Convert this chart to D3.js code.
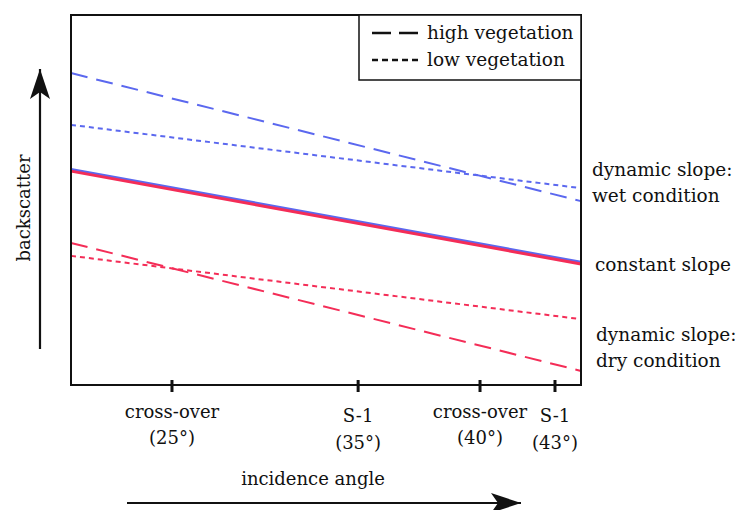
<!DOCTYPE html>
<html>
<head>
<meta charset="utf-8">
<script src="https://cdn.jsdelivr.net/npm/d3@7"></script>
<style>
  body { margin: 0; background: #fff; }
</style>
</head>
<body>
<svg id="chart" width="739" height="510"></svg>
<script>
// schematic incidence angle (deg) at the plot edges and the marked ticks
var angleRange = [20, 44];
var tickAngles = [25, 35, 40, 43];
var tickTop = ['cross-over', 'S-1', 'cross-over', 'S-1'];
var tickBottom = ['(25°)', '(35°)', '(40°)', '(43°)'];

// backscatter (arbitrary units, 0-100) at left / right edge
var seriesNames = ['wet high', 'wet low', 'const wet', 'const dry', 'dry high', 'dry low'];
var seriesStart = [84.3, 70.3, 58.1, 57.8, 38.4, 34.9];
var seriesEnd   = [49.7, 53.2, 33.0, 32.7, 3.8, 17.8];
var seriesKind  = ['dash', 'dot', 'solid', 'solid', 'dash', 'dot'];
var seriesCond  = ['wet', 'wet', 'wet', 'dry', 'dry', 'dry'];

var legendNames = ['high vegetation', 'low vegetation'];
var legendKind = ['dash', 'dot'];

var sideLabels = [['dynamic slope:', 'wet condition'], ['constant slope'], ['dynamic slope:', 'dry condition']];

var FONT = "'DejaVu Serif', serif";

var margin = {top: 15, left: 71},
    width = 510, height = 370;

var svg = d3.select('#chart');
var g = svg.append('g').attr('transform', 'translate(' + margin.left + ',' + margin.top + ')');

// piecewise x scale: the figure is a schematic, spacing between marks is not uniform
var x = d3.scaleLinear()
    .domain([angleRange[0]].concat(tickAngles, [angleRange[1]]))
    .range([0, 0.198, 0.563, 0.802, 0.949, 1].map(function (f) { return f * width; }));
var y = d3.scaleLinear().domain([0, 100]).range([height, 0]);

var colors = {wet: '#5b68ef', dry: '#f42d57'};
var dashes = {dash: '17,9', dot: '5,4', solid: null};

var line = d3.line()
    .x(function (d) { return x(d[0]); })
    .y(function (d) { return y(d[1]); });

function label(sel, size) {
    return sel.attr('font-family', FONT)
        .attr('font-size', size)
        .attr('fill', '#111');
}

// draw order: constant slope lines last so red sits on blue
var order = [0, 1, 4, 5, 2, 3];
order.forEach(function (i) {
    var pts = [[angleRange[0], seriesStart[i]], [angleRange[1], seriesEnd[i]]];
    g.append('path')
        .attr('d', line(pts))
        .attr('fill', 'none')
        .attr('stroke', colors[seriesCond[i]])
        .attr('stroke-width', seriesKind[i] === 'solid' ? (seriesCond[i] === 'dry' ? 3 : 2.6) : 2)
        .attr('stroke-dasharray', dashes[seriesKind[i]])
        .attr('transform', seriesKind[i] === 'solid' && seriesCond[i] === 'wet' ? 'translate(0,-0.8)' : null);
});

// frame
g.append('rect')
    .attr('width', width).attr('height', height)
    .attr('fill', 'none').attr('stroke', '#111').attr('stroke-width', 2);

// ticks on the bottom edge
g.selectAll('.tick').data(tickAngles).enter()
    .append('line')
    .attr('x1', function (d) { return x(d); })
    .attr('x2', function (d) { return x(d); })
    .attr('y1', height - 5).attr('y2', height + 7)
    .attr('stroke', '#111').attr('stroke-width', 3);

var tl = label(g.selectAll('.ticklabel').data(tickAngles).enter()
    .append('text'), 18)
    .attr('text-anchor', 'middle')
    .attr('x', function (d) { return x(d); });
tl.append('tspan')
    .attr('x', function (d) { return x(d); })
    .attr('y', function (d, i) { return height + (tickTop[i] === 'S-1' ? 37 : 33); })
    .text(function (d, i) { return tickTop[i]; });
tl.append('tspan')
    .attr('x', function (d) { return x(d); })
    .attr('y', function (d, i) { return height + (tickTop[i] === 'S-1' ? 64 : 59); })
    .text(function (d, i) { return tickBottom[i]; });

// labels on the right side
var sideY = [[161, 187], [256], [326, 352]];
var sideX = [521, 524, 525];
sideLabels.forEach(function (lines, k) {
    lines.forEach(function (t, j) {
        label(g.append('text'), 18.5)
            .attr('x', sideX[k]).attr('y', sideY[k][j])
            .text(t);
    });
});

// legend
var lg = g.append('g').attr('transform', 'translate(' + (width - 222) + ',0)');
lg.append('rect')
    .attr('width', 222).attr('height', 65)
    .attr('fill', '#fff').attr('stroke', '#111').attr('stroke-width', 1.5);
legendNames.forEach(function (n, i) {
    var ly = 18 + i * 27;
    lg.append('line')
        .attr('x1', 13).attr('x2', 59)
        .attr('y1', ly).attr('y2', ly)
        .attr('stroke', '#111').attr('stroke-width', 2.5)
        .attr('stroke-dasharray', legendKind[i] === 'dash' ? '19,8' : '6,4');
    label(lg.append('text'), 18.5)
        .attr('x', 68).attr('y', ly + 6)
        .text(n);
});

// axis arrows
var defs = svg.append('defs');
defs.append('marker')
    .attr('id', 'arrow')
    .attr('viewBox', '0 0 30 20')
    .attr('refX', 30).attr('refY', 10)
    .attr('markerWidth', 30).attr('markerHeight', 20)
    .attr('markerUnits', 'userSpaceOnUse')
    .attr('orient', 'auto')
    .append('path')
    .attr('d', 'M0,0 L30,10 L0,20 L7,10 Z')
    .attr('fill', '#111');

svg.append('line')
    .attr('x1', 40).attr('y1', 349).attr('x2', 40).attr('y2', 69)
    .attr('stroke', '#111').attr('stroke-width', 2.2)
    .attr('marker-end', 'url(#arrow)');
svg.append('line')
    .attr('x1', 127).attr('y1', 503).attr('x2', 521).attr('y2', 503)
    .attr('stroke', '#111').attr('stroke-width', 2.2)
    .attr('marker-end', 'url(#arrow)');

label(svg.append('text'), 18)
    .attr('transform', 'translate(30,208) rotate(-90)')
    .attr('text-anchor', 'middle')
    .text('backscatter');
label(svg.append('text'), 18)
    .attr('x', 313).attr('y', 485)
    .attr('text-anchor', 'middle')
    .text('incidence angle');
</script>
</body>
</html>
